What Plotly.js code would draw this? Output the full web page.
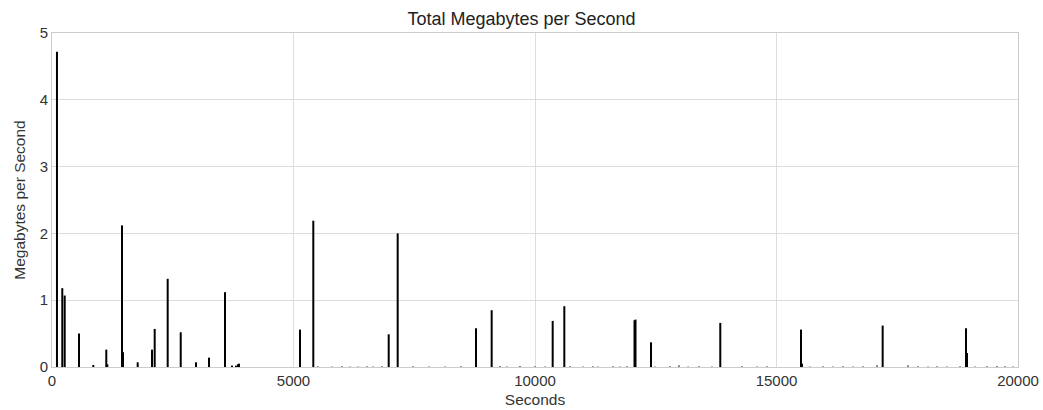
<!DOCTYPE html>
<html>
<head>
<meta charset="utf-8">
<script src="https://cdn.plot.ly/plotly-3.0.1.min.js"></script>
<style>html,body{margin:0;padding:0;background:#fff;}#chart{width:1043px;height:410px;}</style>
</head>
<body>
<div id="chart"></div>
<script>
// Large transfer bursts (seconds, MB/s)
const spikeSeconds = [103, 213, 263, 559, 855, 1124, 1145, 1449, 1470, 1774, 2070, 2126, 2395, 2665, 2981, 3251, 3582,
  3727, 3810, 3851, 3872, 5135, 5410, 6971, 7157, 8778, 9103, 10366, 10607, 12060, 12081, 12402, 13836, 15507, 15527,
  17198, 18923, 18944];
const spikeValues = [4.72, 1.18, 1.07, 0.50, 0.03, 0.26, 0.04, 2.12, 0.22, 0.07, 0.26, 0.57, 1.32, 0.52, 0.07, 0.14, 1.12,
  0.02, 0.02, 0.04, 0.05, 0.56, 2.19, 0.49, 2.00, 0.58, 0.85, 0.69, 0.91, 0.70, 0.71, 0.37, 0.66, 0.56, 0.05,
  0.62, 0.58, 0.21];
// Background trickle (seconds, MB/s)
const trickleSeconds = [5507, 5797, 6004, 6170, 6335, 6522, 6646, 6832, 7474, 7805, 8137, 8468, 9275, 9420, 9689, 10000,
  10207, 10725, 10994, 11201, 11304, 11615, 11760, 11905, 12484, 12795, 12981, 13170, 13398, 13664, 14286, 14596, 14803,
  15693, 15962, 16169, 16377, 16584, 16791, 17081, 17723, 17930, 18137, 18323, 18530, 18799, 19110, 19358, 19565, 19731, 19896];
const trickleValues = [0.01, 0.008, 0.01, 0.008, 0.008, 0.01, 0.008, 0.01, 0.01, 0.008, 0.008, 0.01, 0.015, 0.008, 0.015, 0.01,
  0.008, 0.01, 0.008, 0.01, 0.008, 0.01, 0.008, 0.01, 0.008, 0.01, 0.025, 0.008, 0.01, 0.008, 0.01, 0.008, 0.01,
  0.008, 0.01, 0.008, 0.01, 0.008, 0.01, 0.025, 0.025, 0.01, 0.008, 0.01, 0.008, 0.01, 0.008, 0.01, 0.015, 0.01, 0.008];
const xTicks = [0, 5000, 10000, 15000, 20000];
const yTicks = [0, 1, 2, 3, 4, 5];

// vertical stems from the baseline to each value
function stems(xs, ys) {
  const sx = [], sy = [];
  xs.forEach((x, i) => { sx.push(x, x, null); sy.push(0, ys[i], null); });
  return {x: sx, y: sy};
}
const big = stems(spikeSeconds, spikeValues);
const small = stems(trickleSeconds, trickleValues);

const traces = [
  {type: 'scatter', mode: 'lines', x: small.x, y: small.y, connectgaps: false,
   line: {color: '#555', width: 1.5}, hoverinfo: 'skip'},
  {type: 'scatter', mode: 'lines', x: big.x, y: big.y, connectgaps: false,
   line: {color: '#000', width: 2}, hoverinfo: 'skip'}
];

const layout = {
  width: 1043, height: 410,
  margin: {l: 52, r: 25, t: 33, b: 43},
  paper_bgcolor: '#fff', plot_bgcolor: '#fff',
  font: {family: 'Liberation Sans, Arial, sans-serif', size: 15, color: '#333'},
  title: {text: 'Total Megabytes per Second', font: {size: 18, color: '#222'}, x: 0.5, xanchor: 'center', y: 0.955, yanchor: 'middle'},
  showlegend: false,
  xaxis: {range: [0, 20000], tickvals: xTicks, ticktext: xTicks.map(String), showgrid: true, gridcolor: '#dddddd', gridwidth: 1,
    zeroline: false, showline: true, mirror: true, linecolor: '#cccccc', linewidth: 1, ticks: '', ticklen: 0,
    tickfont: {size: 15, color: '#333'},
    title: {text: 'Seconds', font: {size: 15.5, color: '#333'}, standoff: 6}},
  yaxis: {range: [0, 5], tickvals: yTicks, ticktext: yTicks.map(String), showgrid: true, gridcolor: '#dddddd', gridwidth: 1,
    zeroline: false, showline: true, mirror: true, linecolor: '#cccccc', linewidth: 1, ticks: '', ticklen: 0,
    tickfont: {size: 15, color: '#333'},
    title: {text: 'Megabytes per Second', font: {size: 15.5, color: '#333'}, standoff: 10}}
};

Plotly.newPlot('chart', traces, layout, {displayModeBar: false, staticPlot: true});
</script>
</body>
</html>
